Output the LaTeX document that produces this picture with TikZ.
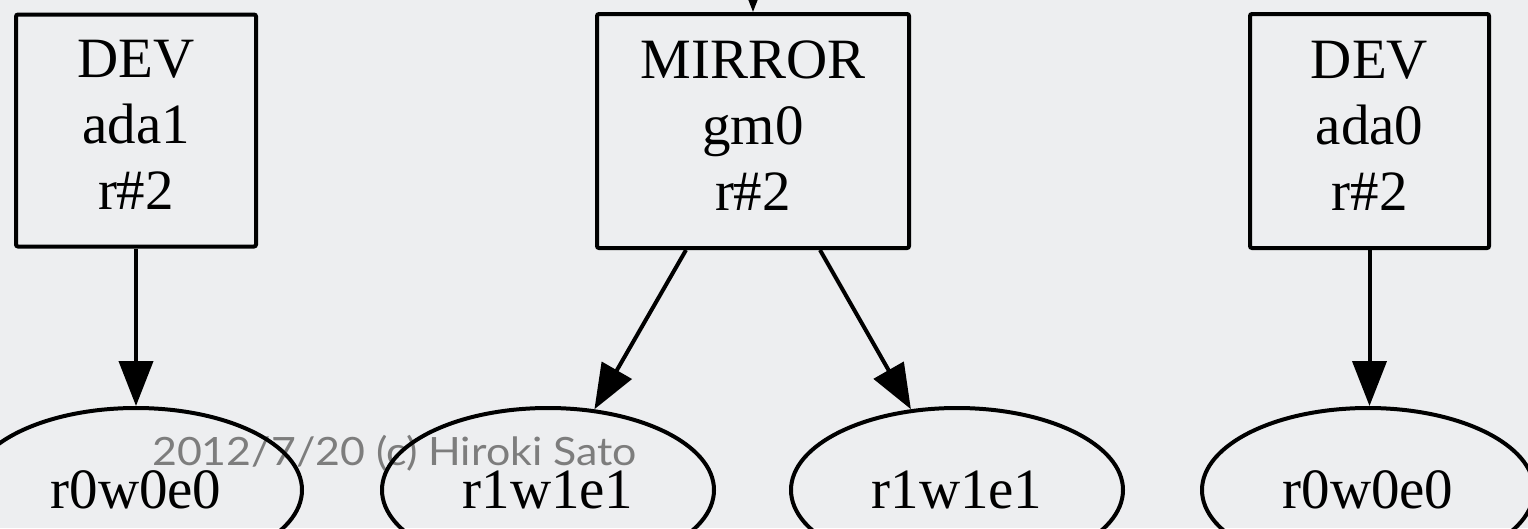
\documentclass[tikz,border=0pt]{standalone}
\usepackage{fontspec}
\setmainfont{Liberation Serif}
\newfontfamily\wmfont{Lato}
\usetikzlibrary{arrows.meta,shapes.geometric}
\definecolor{bg}{RGB}{237,238,240}
\definecolor{wm}{RGB}{125,125,125}
\newcommand{\lines}[1]{\raisebox{3pt}{\begin{tabular}{@{}c@{}}#1\end{tabular}}}
\tikzset{
  gbox/.style={draw, line width=4pt, rounded corners=2pt,
    inner sep=0pt, font=\fontsize{57}{66}\selectfont},
  gell/.style={ellipse, draw, line width=4pt, minimum width=332pt,
    minimum height=164pt, inner sep=0pt, font=\fontsize{57}{66}\selectfont},
  edge/.style={line width=4pt, -{Triangle[length=45pt,width=34pt]}},
}
\begin{document}
\begin{tikzpicture}[x=1pt,y=-1pt]
  \fill[bg] (0,0) rectangle (1528,528);
  \clip (0,0) rectangle (1528,528);
  % footer line
  \node[anchor=base west, inner sep=0pt, text=wm,
        font=\wmfont\fontsize{39}{45}\selectfont] (foot) at (152,465)
        {\scalebox{1.1}[1]{2012/7/20 (c) Hiroki Sato}};
  % providers
  \node[gbox, minimum width=240pt, minimum height=232pt] (d1) at (136,130.5)
        {\lines{DEV\\ada1\\r\#2}};
  \node[gbox, minimum width=312pt, minimum height=234pt] (m) at (753,131)
        {\lines{MIRROR\\gm0\\r\#2}};
  \node[gbox, minimum width=239pt, minimum height=234pt] (d0) at (1369.5,131)
        {\lines{DEV\\ada0\\r\#2}};
  % consumers
  \node[gell] (e1) at (136,490) {r0w0e0};
  \node[gell] (e2) at (548,490) {r1w1e1};
  \node[gell] (e3) at (957,490) {r1w1e1};
  \node[gell] (e4) at (1368,490) {r0w0e0};
  % edges
  \coordinate (up) at (753,-80);
  \draw[edge] (up) -- (m);
  \draw[edge] (d1) -- (e1);
  \draw[edge] ([xshift=-67pt]m.south) -- (e2);
  \draw[edge] ([xshift=67pt]m.south) -- (e3);
  \draw[edge] (d0.south) -- (d0.south |- e4.north);
\end{tikzpicture}
\end{document}
